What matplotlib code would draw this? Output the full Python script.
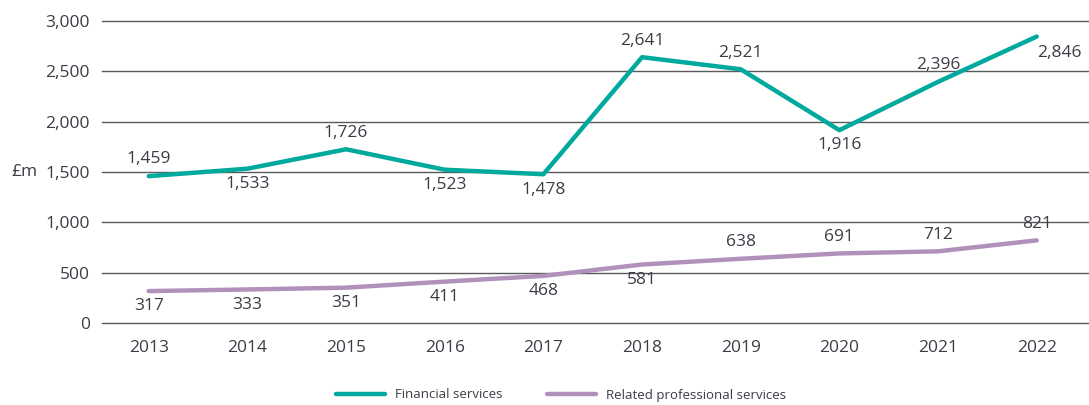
import matplotlib
matplotlib.use("Agg")
import matplotlib.pyplot as plt

years = ["2013", "2014", "2015", "2016", "2017", "2018", "2019", "2020", "2021", "2022"]
financial = [1459, 1533, 1726, 1523, 1478, 2641, 2521, 1916, 2396, 2846]
related = [317, 333, 351, 411, 468, 581, 638, 691, 712, 821]
fs_pos = ["a", "b", "a", "b", "b", "a", "a", "b", "a", "r"]
rp_pos = ["b", "b", "b", "b", "b", "b", "a", "a", "a", "a"]
yticks = [0, 500, 1000, 1500, 2000, 2500, 3000]

TEAL = "#00A99D"
PURPLE = "#B290BC"
TXT = "#3C3C46"

plt.rcParams["font.family"] = ["Open Sans", "DejaVu Sans"]
FS = 12.5

fig = plt.figure(figsize=(10.89, 4.05), dpi=100)
ax = fig.add_axes([0.094, 0.2025, 0.906, 0.7455])
x = list(range(len(years)))
ax.plot(x, financial, color=TEAL, lw=3.2, solid_capstyle="round", label="Financial services", zorder=3)
ax.plot(x, related, color=PURPLE, lw=3.2, solid_capstyle="round", label="Related professional services", zorder=3)

def lab(xi, v, pos):
    if pos == "a":
        off, ha, va = (0, 12), "center", "center"
    elif pos == "b":
        off, ha, va = (0, -11), "center", "center"
    else:
        off, ha, va = (0, -11.5), "left", "center"
    ax.annotate(f"{v:,}", (xi, v), xytext=off, textcoords="offset points",
                ha=ha, va=va, fontsize=FS, color=TXT, zorder=4)

for xi, v, p in zip(x, financial, fs_pos):
    lab(xi, v, p)
for xi, v, p in zip(x, related, rp_pos):
    lab(xi, v, p)

ax.set_xlim(-0.47, 9.53)
ax.set_ylim(0, 3000)
ax.set_yticks(yticks)
ax.set_yticklabels([f"{t:,}" for t in yticks])
ax.set_xticks(x)
ax.set_xticklabels(years)
ax.grid(axis="y", color="#5A5A5A", lw=1.0)
for gl in ax.get_ygridlines():
    gl.set_clip_on(False)
ax.set_axisbelow(True)
for s in ax.spines.values():
    s.set_visible(False)
ax.tick_params(axis="both", length=0, labelsize=FS, labelcolor=TXT)
ax.tick_params(axis="x", pad=12)
ax.tick_params(axis="y", pad=9)
fig.text(24 / 1089, 1 - 172 / 405, "£m", fontsize=FS, color=TXT, ha="center", va="center")

fig.legend(loc="center", bbox_to_anchor=(0.515, 1 - 395 / 405), ncol=2, frameon=False,
           fontsize=9.5, labelcolor=TXT, handlelength=3.7, handletextpad=0.75, columnspacing=3.4)

fig.savefig("out.png", dpi=100, facecolor="white")
